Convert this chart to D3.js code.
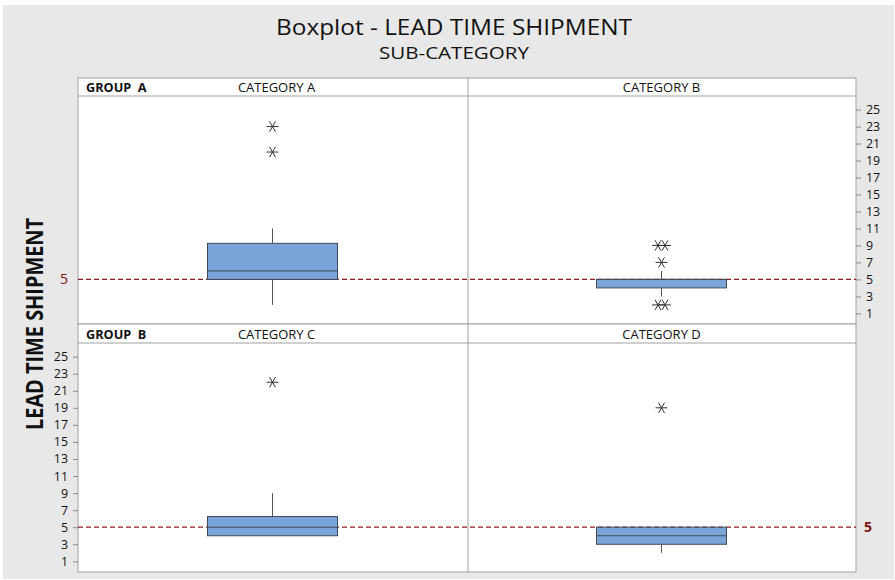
<!DOCTYPE html>
<html>
<head>
<meta charset="utf-8">
<script src="https://cdn.jsdelivr.net/npm/d3@7"></script>
<style>
  body { margin: 0; background: #fff; }
  text { font-family: "Open Sans", "Noto Sans", sans-serif; }
</style>
</head>
<body>
<div id="chart"></div>
<script>
// summary values
var categories = ["CATEGORY A", "CATEGORY B", "CATEGORY C", "CATEGORY D"];
var groups     = ["GROUP  A", "GROUP  A", "GROUP  B", "GROUP  B"];
var q1         = [5, 4, 4, 3];
var median     = [6, 5, 5, 4];
var q3         = [9.25, 5, 6.25, 5];
var whiskLo    = [2, 3, 4, 2];
var whiskHi    = [11, 6, 9, 5];
var outliers   = [[23, 20], [9, 9, 7, 2, 2], [22], [19]];
var yTicks     = [1, 3, 5, 7, 9, 11, 13, 15, 17, 19, 21, 23, 25];
var refValue   = 5;

var W = 895, H = 580;
var svg = d3.select("#chart").append("svg")
    .attr("width", W).attr("height", H);

svg.append("rect").attr("x", 3).attr("y", 5)
    .attr("width", 891).attr("height", 574).attr("fill", "#e8e8e8");

// title (narrow face in the original, so squeeze to its width)
svg.append("text").attr("x", 454).attr("y", 35)
    .attr("text-anchor", "middle").attr("font-size", 22).attr("fill", "#111")
    .attr("textLength", 356).attr("lengthAdjust", "spacingAndGlyphs")
    .text("Boxplot - LEAD TIME SHIPMENT");
svg.append("text").attr("x", 454).attr("y", 59)
    .attr("text-anchor", "middle").attr("font-size", 16).attr("fill", "#111")
    .attr("textLength", 150).attr("lengthAdjust", "spacingAndGlyphs")
    .text("SUB-CATEGORY");

svg.append("text")
    .attr("transform", "translate(43,324) rotate(-90)")
    .attr("text-anchor", "middle").attr("font-size", 23).attr("font-weight", "bold")
    .attr("fill", "#111")
    .attr("textLength", 212).attr("lengthAdjust", "spacingAndGlyphs")
    .text("LEAD TIME SHIPMENT");

var left = 78, mid = 468, right = 856;
var rows = [{top: 78, plotTop: 96, plotBot: 324}, {top: 324, plotTop: 343, plotBot: 572}];

var x = d3.scaleBand().domain([0, 1]).range([left, right]);

rows.forEach(function(r, ri) {
  var y = d3.scaleLinear().domain([-0.25, 26.6]).range([r.plotBot, r.plotTop]);
  var g = svg.append("g");

  // header strip + plot area
  g.append("rect").attr("x", left).attr("y", r.top)
      .attr("width", right - left).attr("height", r.plotBot - r.top)
      .attr("fill", "#fff").attr("stroke", "#a0a0a0");
  g.append("line").attr("x1", left).attr("x2", right)
      .attr("y1", r.plotTop).attr("y2", r.plotTop).attr("stroke", "#a0a0a0");
  g.append("line").attr("x1", mid).attr("x2", mid)
      .attr("y1", r.top).attr("y2", r.plotBot).attr("stroke", "#a0a0a0");

  g.append("text").attr("x", left + 8).attr("y", r.plotTop - 4)
      .attr("font-size", 12.7).attr("font-weight", "bold").attr("fill", "#111")
      .style("white-space", "pre")
      .text(groups[ri * 2]);

  // axis: right for top row, left for bottom row
  var ax = ri === 0 ? d3.axisRight(y) : d3.axisLeft(y);
  ax.tickValues(yTicks).tickSize(5).tickPadding(5);
  var axg = svg.append("g")
      .attr("transform", "translate(" + (ri === 0 ? right : left) + ",0)")
      .call(ax);
  axg.select(".domain").remove();
  axg.selectAll(".tick line").attr("stroke", "#888");
  axg.selectAll(".tick text").attr("font-size", 12.4).attr("fill", "#111")
      .attr("font-family", "'Open Sans', sans-serif");

  // reference line
  g.append("line").attr("x1", left).attr("x2", right)
      .attr("y1", y(refValue)).attr("y2", y(refValue))
      .attr("stroke", "#8b1c1c").attr("stroke-width", 1.2)
      .attr("stroke-dasharray", "5,3");
  g.append("text")
      .attr("x", ri === 0 ? left - 10 : right + 8)
      .attr("y", y(refValue)).attr("dy", "0.35em")
      .attr("text-anchor", ri === 0 ? "end" : "start")
      .attr("font-size", 14).attr("font-weight", ri === 0 ? "normal" : "bold")
      .attr("fill", "#7b1515")
      .text(refValue);

  [0, 1].forEach(function(ci) {
    var i = ri * 2 + ci;
    var cx = x(ci) + x.bandwidth() / 2;
    var bw = 130;

    g.append("text").attr("x", cx + (ci === 0 ? 4 : 0)).attr("y", r.plotTop - 4)
        .attr("text-anchor", "middle").attr("font-size", 13).attr("fill", "#111")
        .text(categories[i]);

    // whiskers
    g.append("line").attr("x1", cx).attr("x2", cx)
        .attr("y1", y(whiskLo[i])).attr("y2", y(q1[i]))
        .attr("stroke", "#555");
    g.append("line").attr("x1", cx).attr("x2", cx)
        .attr("y1", y(q3[i])).attr("y2", y(whiskHi[i]))
        .attr("stroke", "#555");

    g.append("rect").attr("x", cx - bw / 2).attr("y", y(q3[i]))
        .attr("width", bw).attr("height", y(q1[i]) - y(q3[i]))
        .attr("fill", "#7ba5d9").attr("stroke", "#3e4a5a").attr("stroke-width", 1);
    g.append("line").attr("x1", cx - bw / 2).attr("x2", cx + bw / 2)
        .attr("y1", y(median[i])).attr("y2", y(median[i]))
        .attr("stroke", "#3e4a5a");

    // outliers, repeated values nudged sideways
    var seen = {};
    var sym = d3.symbol().type(d3.symbolAsterisk).size(100);
    outliers[i].forEach(function(v) {
      var n = seen[v] || 0;
      seen[v] = n + 1;
      var dup = outliers[i].filter(function(o) { return o === v; }).length;
      var dx = dup > 1 ? (n === 0 ? -3.5 : 3.5) : 0;
      g.append("path").attr("d", sym())
          .attr("transform", "translate(" + (cx + dx) + "," + y(v) + ") rotate(90)")
          .attr("fill", "none").attr("stroke", "#333").attr("stroke-width", 1);
    });
  });
});
</script>
</body>
</html>
